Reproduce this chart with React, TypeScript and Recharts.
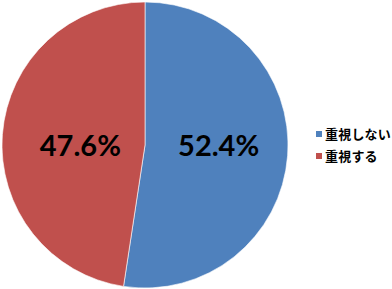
import React from "react";
import { Cell, Pie, PieChart } from "recharts";

const categories = ["重視しない", "重視する"];
const values = [52.4, 47.6];
const colors = ["#4F81BD", "#C0504D"];

const data = categories.map((name, i) => ({ name, value: values[i] }));

const RADIAN = Math.PI / 180;

// labels sit on a horizontal line through the centre, nudged a little right like the original
function renderLabel(props: any) {
  const { cx, cy, midAngle, outerRadius, value } = props;
  const r = outerRadius * 0.485;
  const x = cx + r * Math.cos(-midAngle * RADIAN) + 4.5;
  const y = cy - 1;
  return (
    <text
      x={x}
      y={y}
      fill="#000"
      textAnchor="middle"
      dominantBaseline="central"
      fontFamily="Lato, 'Open Sans', sans-serif"
      fontWeight="bold"
      fontSize={29}
    >
      {value.toFixed(1)}%
    </text>
  );
}

function ChartLegend() {
  return (
    <div
      style={{
        position: "absolute",
        left: 316,
        top: 123,
        fontFamily: "'Noto Sans CJK JP', sans-serif",
        fontWeight: "bold",
        fontSize: 13,
        letterSpacing: 0.2,
        lineHeight: "22px",
        color: "#000",
        whiteSpace: "nowrap",
      }}
    >
      {categories.map((c, i) => (
        <div key={c} style={{ display: "flex", alignItems: "center", height: 22 }}>
          <span
            style={{
              display: "inline-block",
              width: 6,
              height: 6,
              background: colors[i],
              marginRight: 3,
            }}
          />
          <span>{c}</span>
        </div>
      ))}
    </div>
  );
}

export default function App() {
  return (
    <div style={{ position: "absolute", left: 0, top: 0, width: 392, height: 289, background: "#fff", overflow: "hidden" }}>
      <PieChart width={392} height={289} margin={{ top: 0, right: 0, bottom: 0, left: 0 }}>
        <Pie
          data={data}
          dataKey="value"
          nameKey="name"
          cx={145}
          cy={145}
          outerRadius={143}
          startAngle={90}
          endAngle={-270}
          stroke="#ffffff"
          strokeWidth={0.6}
          label={renderLabel}
          labelLine={false}
          isAnimationActive={false}
        >
          {data.map((d, i) => (
            <Cell key={d.name} fill={colors[i]} />
          ))}
        </Pie>
      </PieChart>
      <ChartLegend />
    </div>
  );
}
